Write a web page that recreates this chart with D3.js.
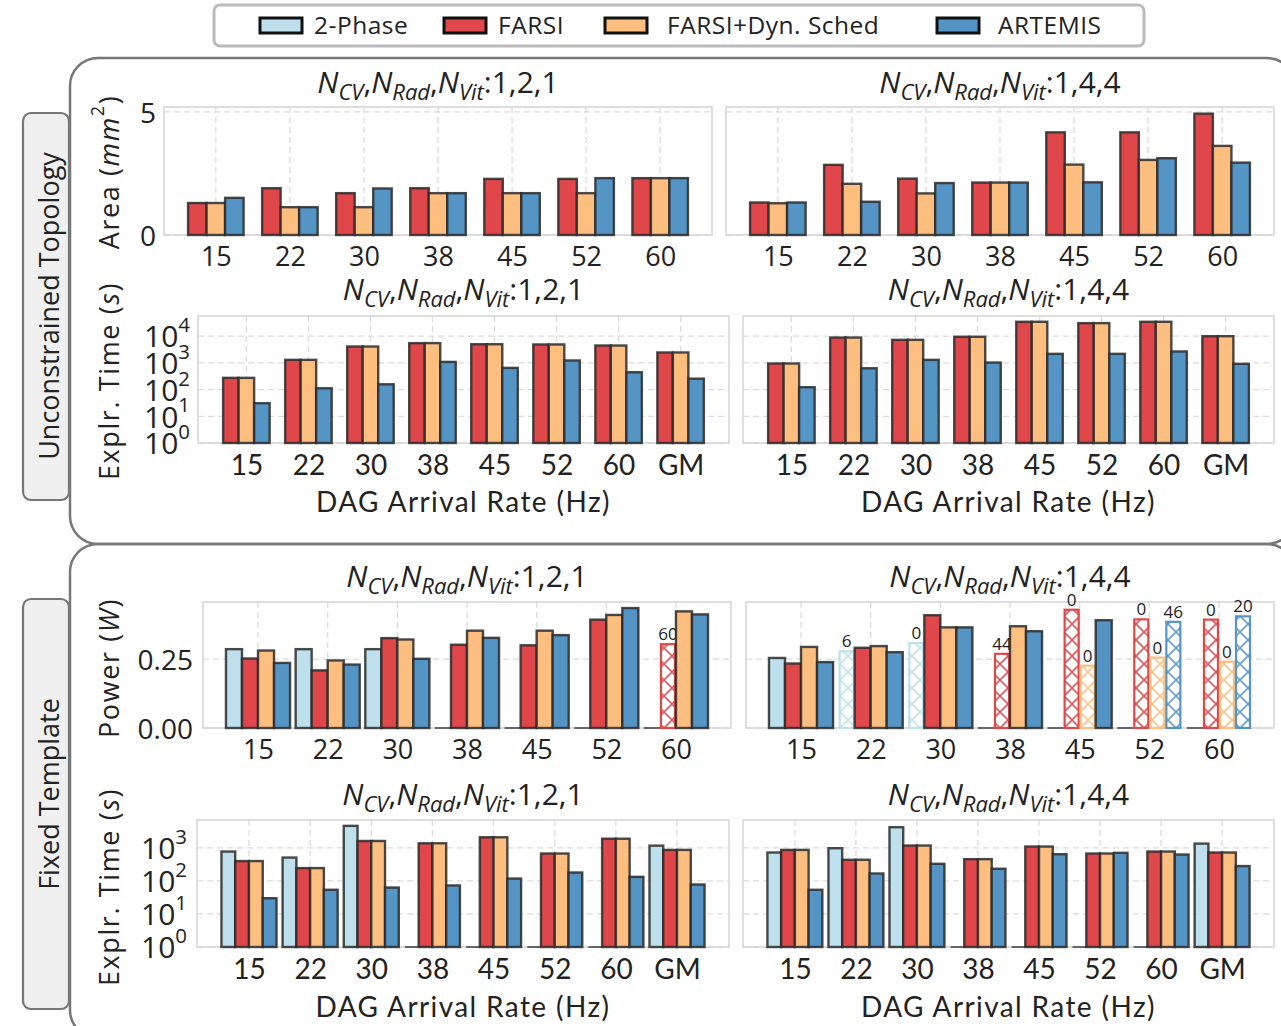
<!DOCTYPE html>
<html>
<head>
<meta charset="utf-8">
<title>FARSI vs ARTEMIS design space exploration</title>
<script src="https://cdn.jsdelivr.net/npm/d3@7"></script>
<style>
  body { margin: 0; background: #fff; }
  text { fill: #222; }
</style>
</head>
<body>
<script>
// ---- data ----
var seriesNames = ["2-Phase", "FARSI", "FARSI+Dyn. Sched", "ARTEMIS"];
var seriesColors = ["#bde0ec", "#df474b", "#fdbe80", "#5595c5"];
var rates = ["15", "22", "30", "38", "45", "52", "60"];
var ratesGM = ["15", "22", "30", "38", "45", "52", "60", "GM"];

// area (mm^2), unconstrained topology
var areaFarsi121   = [1.30, 1.90, 1.70, 1.90, 2.28, 2.28, 2.31];
var areaDyn121     = [1.30, 1.13, 1.13, 1.70, 1.70, 1.70, 2.31];
var areaArtemis121 = [1.51, 1.13, 1.89, 1.70, 1.70, 2.31, 2.31];
var areaFarsi144   = [1.32, 2.85, 2.29, 2.13, 4.17, 4.17, 4.93];
var areaDyn144     = [1.29, 2.08, 1.69, 2.13, 2.86, 3.05, 3.62];
var areaArtemis144 = [1.32, 1.35, 2.11, 2.13, 2.14, 3.12, 2.94];

// exploration time (s), unconstrained topology
var timeUFarsi121   = [275, 1300, 4100, 5500, 5000, 4900, 4470, 2450];
var timeUDyn121     = [275, 1300, 4100, 5500, 5000, 4900, 4470, 2450];
var timeUArtemis121 = [31, 112, 158, 1090, 650, 1230, 447, 257];
var timeUFarsi144   = [950, 8900, 7300, 9500, 34600, 30800, 34600, 10000];
var timeUDyn144     = [950, 8900, 7300, 9500, 34600, 30800, 34600, 10000];
var timeUArtemis144 = [123, 630, 1300, 1030, 2180, 2180, 2680, 920];

// power (W), fixed template
var power2P121      = [0.286, 0.286, 0.286, 0, 0, 0, 0];
var powerFarsi121   = [0.252, 0.209, 0.326, 0.302, 0.300, 0.393, 0.304];
var powerDyn121     = [0.281, 0.245, 0.321, 0.353, 0.353, 0.410, 0.423];
var powerArtemis121 = [0.236, 0.230, 0.251, 0.327, 0.337, 0.435, 0.412];
var notesFarsi121   = [null, null, null, null, null, null, "60"];

var power2P144      = [0.254, 0.278, 0.308, 0, 0, 0, 0];
var powerFarsi144   = [0.234, 0.291, 0.409, 0.269, 0.429, 0.394, 0.393];
var powerDyn144     = [0.294, 0.297, 0.365, 0.369, 0.226, 0.255, 0.240];
var powerArtemis144 = [0.239, 0.275, 0.365, 0.351, 0.391, 0.385, 0.405];
var notes2P144      = [null, "6", "0", null, null, null, null];
var notesFarsi144   = [null, null, null, "44", "0", "0", "0"];
var notesDyn144     = [null, null, null, null, "0", "0", "0"];
var notesArtemis144 = [null, null, null, null, null, "46", "20"];

// exploration time (s), fixed template
var timeF2P121      = [776, 510, 4650, 0, 0, 0, 0, 1170];
var timeFFarsi121   = [400, 245, 1620, 1380, 2100, 676, 1900, 870];
var timeFDyn121     = [400, 245, 1620, 1380, 2100, 676, 1900, 870];
var timeFArtemis121 = [30, 54, 63, 73, 118, 180, 133, 78];
var timeF2P144      = [725, 980, 4230, 0, 0, 0, 0, 1350];
var timeFFarsi144   = [870, 437, 1180, 457, 1100, 676, 776, 725];
var timeFDyn144     = [870, 437, 1180, 457, 1100, 676, 776, 725];
var timeFArtemis144 = [54, 168, 330, 234, 645, 710, 630, 282];

// ---- drawing ----
var width = 1281, height = 1026;
var font = "'Open Sans', 'Noto Sans', sans-serif";

var svg = d3.select("body").append("svg")
    .attr("width", width)
    .attr("height", height)
    .style("font-family", font);

var defs = svg.append("defs");
seriesColors.forEach(function (c, i) {
    var pat = defs.append("pattern")
        .attr("id", "hatch" + i)
        .attr("patternUnits", "userSpaceOnUse")
        .attr("width", 16).attr("height", 16);
    pat.append("rect").attr("width", 16).attr("height", 16).attr("fill", "#fff");
    pat.append("path")
        .attr("d", "M0,0L16,16M16,0L0,16M-4,12L4,20M12,-4L20,4M-4,4L4,-4M12,20L20,12")
        .attr("stroke", c).attr("stroke-width", 1.6).attr("opacity", 0.9);
});

// group frames and side tabs
svg.append("rect").attr("x", 70).attr("y", 58).attr("width", 1225).attr("height", 486)
    .attr("rx", 28).attr("fill", "none").attr("stroke", "#777").attr("stroke-width", 2.5);
svg.append("rect").attr("x", 70).attr("y", 544).attr("width", 1225).attr("height", 494)
    .attr("rx", 28).attr("fill", "none").attr("stroke", "#777").attr("stroke-width", 2.5);

function sideTab(y0, y1, textY, label) {
    svg.append("rect").attr("x", 23).attr("y", y0).attr("width", 46).attr("height", y1 - y0)
        .attr("rx", 8).attr("fill", "#f0f0f0").attr("stroke", "#777").attr("stroke-width", 2.2);
    svg.append("text")
        .attr("transform", "translate(48," + textY + ") rotate(-90)")
        .attr("text-anchor", "middle").attr("dominant-baseline", "central")
        .attr("font-size", 27).text(label);
}
sideTab(113, 500, 306, "Unconstrained Topology");
sideTab(599, 1009, 794, "Fixed Template");

// legend
svg.append("rect").attr("x", 214).attr("y", 5).attr("width", 930).attr("height", 41)
    .attr("rx", 6).attr("fill", "#fff").attr("stroke", "#bbb").attr("stroke-width", 3);
var legendX = [260, 444, 605, 937];
var legendTextX = [314, 498, 667, 998];
seriesNames.forEach(function (name, i) {
    svg.append("rect").attr("x", legendX[i]).attr("y", 18).attr("width", 42).attr("height", 15)
        .attr("fill", seriesColors[i]).attr("stroke", "#111").attr("stroke-width", 3);
    svg.append("text").attr("x", legendTextX[i]).attr("y", 34)
        .attr("font-size", 24.5).attr("letter-spacing", 0.5).text(name);
});

function panelTitle(cx, y, cfg) {
    var t = svg.append("text").attr("x", cx).attr("y", y)
        .attr("text-anchor", "middle").attr("font-size", 30);
    ["CV", "Rad", "Vit"].forEach(function (sub, i) {
        t.append("tspan").attr("font-style", "italic").text("N");
        t.append("tspan").attr("font-style", "italic").attr("font-size", 22)
            .attr("dy", 7).text(sub);
        t.append("tspan").attr("dy", -7).text(i < 2 ? "," : ":" + cfg);
    });
}

function yLabel(cy, build) {
    var t = svg.append("text")
        .attr("transform", "translate(108," + cy + ") rotate(-90)")
        .attr("text-anchor", "middle").attr("dominant-baseline", "central")
        .attr("font-size", 27).attr("letter-spacing", 1.6);
    build(t);
}

function drawPanel(p) {
    var g = svg.append("g");
    var x = d3.scalePoint().domain(p.cats).range([p.left, p.right]).padding(p.pad);
    var y = (p.log ? d3.scaleLog() : d3.scaleLinear())
        .domain(p.domain).range([p.bottom, p.top]);
    var bw = x.step() * p.barFrac;
    var n = p.series.length;

    // grid
    g.selectAll(".vg").data(p.cats).enter().append("line")
        .attr("x1", function (d) { return x(d); })
        .attr("x2", function (d) { return x(d); })
        .attr("y1", p.top).attr("y2", p.bottom)
        .attr("stroke", "#dcdcdc").attr("stroke-width", 1.3).attr("stroke-dasharray", "6,4");
    g.selectAll(".hg").data(p.ticks).enter().append("line")
        .attr("x1", p.left).attr("x2", p.right)
        .attr("y1", function (d) { return y(d); })
        .attr("y2", function (d) { return y(d); })
        .attr("stroke", "#dcdcdc").attr("stroke-width", 1.3).attr("stroke-dasharray", "6,4");
    g.append("rect").attr("x", p.left).attr("y", p.top)
        .attr("width", p.right - p.left).attr("height", p.bottom - p.top)
        .attr("fill", "none").attr("stroke", "#d6d6d6").attr("stroke-width", 1.6);

    // bars
    p.series.forEach(function (s, si) {
        var off = (si - (n - 1) / 2) * bw - bw / 2;
        var data = s.values.map(function (v, i) {
            return { cat: p.cats[i], v: v, note: s.notes ? s.notes[i] : null };
        });
        var sg = g.append("g");
        sg.selectAll("line").data(data.filter(function (d) { return d.v === 0; }))
            .enter().append("line")
            .attr("x1", function (d) { return x(d.cat) + off; })
            .attr("x2", function (d) { return x(d.cat) + off + bw; })
            .attr("y1", p.bottom).attr("y2", p.bottom)
            .attr("stroke", "#666").attr("stroke-width", 2);
        var solid = data.filter(function (d) { return d.v > 0 && d.note === null; });
        var hatched = data.filter(function (d) { return d.v > 0 && d.note !== null; });
        sg.selectAll("rect.solid").data(solid).enter().append("rect")
            .attr("x", function (d) { return x(d.cat) + off; })
            .attr("y", function (d) { return y(d.v); })
            .attr("width", bw)
            .attr("height", function (d) { return p.bottom - y(d.v); })
            .attr("fill", seriesColors[s.idx])
            .attr("stroke", "#2a2a2a").attr("stroke-opacity", 0.85).attr("stroke-width", 2.4);
        sg.selectAll("rect.hatch").data(hatched).enter().append("rect")
            .attr("x", function (d) { return x(d.cat) + off + 1; })
            .attr("y", function (d) { return y(d.v); })
            .attr("width", bw - 2)
            .attr("height", function (d) { return p.bottom - y(d.v); })
            .attr("fill", "url(#hatch" + s.idx + ")")
            .attr("stroke", seriesColors[s.idx]).attr("stroke-width", 2.2);
        sg.selectAll("text").data(hatched).enter().append("text")
            .attr("x", function (d) { return x(d.cat) + off + bw / 2; })
            .attr("y", function (d) { return y(d.v) - 4; })
            .attr("text-anchor", "middle").attr("font-size", 17)
            .text(function (d) { return d.note; });
    });

    // axes
    var xa = g.append("g").attr("transform", "translate(0," + p.bottom + ")")
        .call(d3.axisBottom(x).tickSize(0).tickPadding(12));
    xa.select(".domain").remove();
    xa.selectAll("text").attr("font-size", p.xFont || 26)
        .attr("font-family", p.xFamily || font).attr("fill", "#222");
    xa.attr("font-family", null);

    if (p.yTicks !== false) {
        var ya = g.append("g").attr("transform", "translate(" + p.left + ",0)")
            .call(d3.axisLeft(y).tickValues(p.ticks).tickSize(0).tickPadding(p.yPad || 8)
                .tickFormat(p.log ? function () { return "10"; } : p.fmt));
        ya.select(".domain").remove();
        ya.attr("font-family", null);
        ya.selectAll("text").attr("font-size", p.yFont || 28).attr("fill", "#222")
            .attr("dy", "0.36em");
        if (p.log) {
            ya.selectAll("text").each(function (d) {
                d3.select(this).append("tspan").attr("dy", "-0.75em")
                    .attr("font-size", "0.68em").text(Math.round(Math.log10(d)));
            });
        }
    }

    panelTitle((p.left + p.right) / 2, p.titleY, p.cfg);
    if (p.xLabel) {
        svg.append("text").attr("x", (p.left + p.right) / 2).attr("y", p.xLabelY)
            .attr("text-anchor", "middle").attr("font-size", 28)
            .attr("font-family", "Lato, 'Open Sans', sans-serif")
            .attr("letter-spacing", 1.4)
            .text("DAG Arrival Rate (Hz)");
    }
}

function ser(idx, values, notes) { return { idx: idx, values: values, notes: notes }; }

// row 1: area
drawPanel({ cats: rates, left: 164, right: 712, top: 107, bottom: 235, pad: 0.7, barFrac: 0.25,
    domain: [0, 5.2], ticks: [0, 5], fmt: d3.format("d"), yPad: 8, cfg: "1,2,1", titleY: 93,
    xFont: 27,
    series: [ser(1, areaFarsi121), ser(2, areaDyn121), ser(3, areaArtemis121)] });
drawPanel({ cats: rates, left: 726, right: 1274, top: 107, bottom: 235, pad: 0.7, barFrac: 0.25,
    domain: [0, 5.2], ticks: [0, 5], yTicks: false, cfg: "1,4,4", titleY: 93,
    xFont: 27,
    series: [ser(1, areaFarsi144), ser(2, areaDyn144), ser(3, areaArtemis144)] });

// row 2: exploration time, unconstrained
drawPanel({ cats: ratesGM, left: 198, right: 729, top: 316, bottom: 443, pad: 0.78, barFrac: 0.25,
    log: true, domain: [1, 57000], ticks: [1, 10, 100, 1000, 10000], yPad: 8, yFont: 30,
    xFamily: "Lato, sans-serif", xFont: 28,
    cfg: "1,2,1", titleY: 300, xLabel: true, xLabelY: 512,
    series: [ser(1, timeUFarsi121), ser(2, timeUDyn121), ser(3, timeUArtemis121)] });
drawPanel({ cats: ratesGM, left: 743, right: 1274, top: 316, bottom: 443, pad: 0.78, barFrac: 0.25,
    log: true, domain: [1, 57000], ticks: [1, 10, 100, 1000, 10000], yTicks: false,
    xFamily: "Lato, sans-serif", xFont: 28,
    cfg: "1,4,4", titleY: 300, xLabel: true, xLabelY: 512,
    series: [ser(1, timeUFarsi144), ser(2, timeUDyn144), ser(3, timeUArtemis144)] });

// row 3: power, fixed template
drawPanel({ cats: rates, left: 203, right: 731, top: 602, bottom: 728, pad: 0.79, barFrac: 0.23,
    domain: [0, 0.457], ticks: [0, 0.25], fmt: d3.format(".2f"), yPad: 10,
    cfg: "1,2,1", titleY: 587, xFont: 27,
    series: [ser(0, power2P121), ser(1, powerFarsi121, notesFarsi121),
             ser(2, powerDyn121), ser(3, powerArtemis121)] });
drawPanel({ cats: rates, left: 746, right: 1274, top: 602, bottom: 728, pad: 0.79, barFrac: 0.23,
    domain: [0, 0.457], ticks: [0, 0.25], yTicks: false,
    cfg: "1,4,4", titleY: 587, xFont: 27,
    series: [ser(0, power2P144, notes2P144), ser(1, powerFarsi144, notesFarsi144),
             ser(2, powerDyn144, notesDyn144), ser(3, powerArtemis144, notesArtemis144)] });

// row 4: exploration time, fixed template
drawPanel({ cats: ratesGM, left: 197, right: 729, top: 820, bottom: 947, pad: 0.85, barFrac: 0.225,
    log: true, domain: [1, 7000], ticks: [1, 10, 100, 1000], yPad: 10, yFont: 30,
    xFamily: "Lato, sans-serif", xFont: 28,
    cfg: "1,2,1", titleY: 805, xLabel: true, xLabelY: 1017,
    series: [ser(0, timeF2P121), ser(1, timeFFarsi121), ser(2, timeFDyn121), ser(3, timeFArtemis121)] });
drawPanel({ cats: ratesGM, left: 743, right: 1274, top: 820, bottom: 947, pad: 0.85, barFrac: 0.225,
    log: true, domain: [1, 7000], ticks: [1, 10, 100, 1000], yTicks: false,
    xFamily: "Lato, sans-serif", xFont: 28,
    cfg: "1,4,4", titleY: 805, xLabel: true, xLabelY: 1017,
    series: [ser(0, timeF2P144), ser(1, timeFFarsi144), ser(2, timeFDyn144), ser(3, timeFArtemis144)] });

// y axis labels
yLabel(172, function (t) {
    t.append("tspan").text("Area (");
    t.append("tspan").attr("font-style", "italic").text("mm");
    t.append("tspan").attr("font-size", 18).attr("dy", -11).text("2");
    t.append("tspan").attr("dy", 11).text(")");
});
yLabel(381, function (t) {
    t.append("tspan").text("Explr. Time (");
    t.append("tspan").attr("font-style", "italic").text("s");
    t.append("tspan").text(")");
});
yLabel(668, function (t) {
    t.append("tspan").text("Power (");
    t.append("tspan").attr("font-style", "italic").text("W");
    t.append("tspan").text(")");
});
yLabel(887, function (t) {
    t.append("tspan").text("Explr. Time (");
    t.append("tspan").attr("font-style", "italic").text("s");
    t.append("tspan").text(")");
});
</script>
</body>
</html>
